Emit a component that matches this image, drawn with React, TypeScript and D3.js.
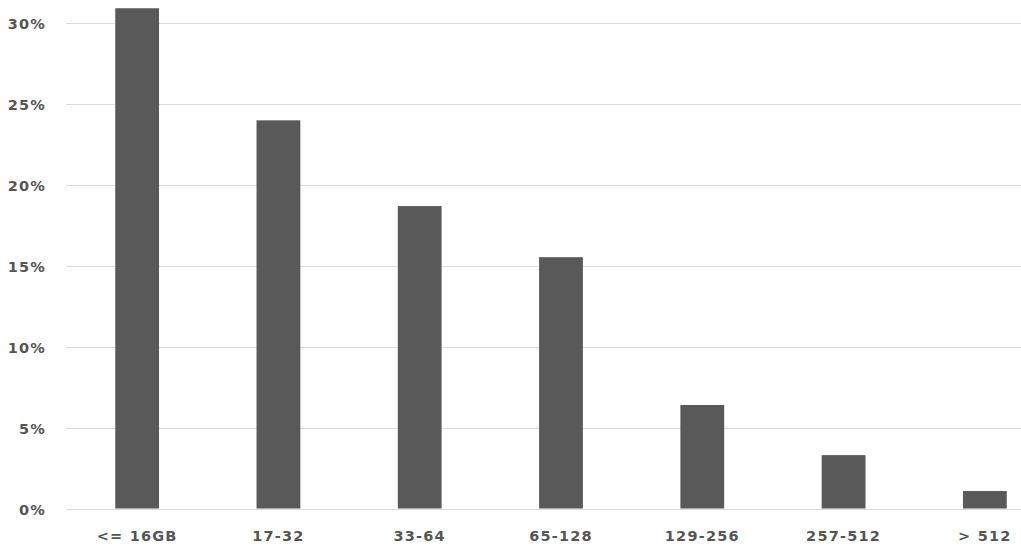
import React from "react";
import * as d3 from "d3";

const categories = ["<= 16GB", "17-32", "33-64", "65-128", "129-256", "257-512", "> 512"];
const values = [30.93, 24.0, 18.7, 15.54, 6.4, 3.3, 1.08];
const yTicks = [0, 5, 10, 15, 20, 25, 30];

export default function App() {
  const W = 1021, H = 550;
  const x = d3.scaleBand<string>().domain(categories).range([66.5, 1055.5]).paddingInner(0.69).paddingOuter(0.345);
  const y = d3.scaleLinear().domain([0, 30]).range([508.5, 23.3]);
  const font = "'DejaVu Sans', sans-serif";
  return (
    <div style={{ position: "absolute", left: 0, top: 0 }}>
      <svg width={W} height={H} style={{ display: "block" }}>
        <rect width={W} height={H} fill="#fff" />
        {yTicks.map((t) => (
          <g key={t}>
            <line x1={66} x2={W} y1={Math.round(y(t)) + 0.5} y2={Math.round(y(t)) + 0.5} stroke="#dcdcdc" strokeWidth={1} />
            <text x={46} y={y(t) + 2} textAnchor="end" dominantBaseline="middle" fontFamily={font} fontWeight="bold" fontSize={14.5} fill="#555" letterSpacing={1.2}>
              {t}%
            </text>
          </g>
        ))}
        {categories.map((c, i) => (
          <rect key={c} x={x(c)} y={y(values[i])} width={x.bandwidth()} height={y(0) - y(values[i])} fill="#595959" />
        ))}
        {categories.map((c) => (
          <text key={c} x={(x(c) as number) + x.bandwidth() / 2} y={541} textAnchor="middle" fontFamily={font} fontWeight="bold" fontSize={14.5} fill="#555" letterSpacing={1.2}>
            {c}
          </text>
        ))}
      </svg>
    </div>
  );
}
